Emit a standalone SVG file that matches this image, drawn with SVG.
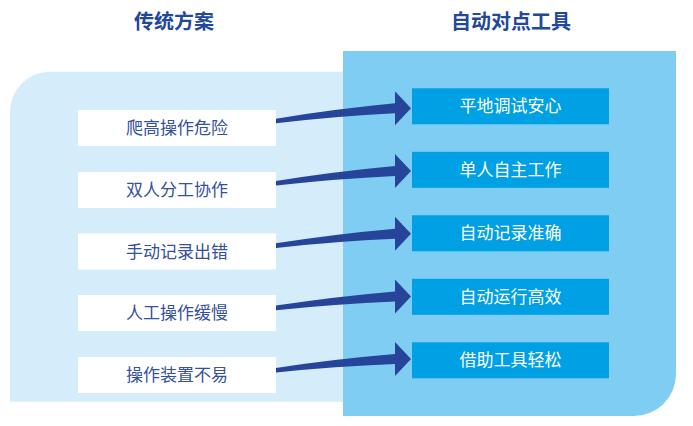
<svg xmlns="http://www.w3.org/2000/svg" width="693" height="426" viewBox="0 0 693 426">
<style>
.title{font-family:"Noto Sans CJK SC","Noto Sans",sans-serif;font-size:20px;font-weight:bold;fill:#22489c;text-anchor:middle}
.lbox{fill:#ffffff}
.rbox{fill:#00a0e4}
.ltxt{font-family:"Noto Sans CJK SC","Noto Sans",sans-serif;font-size:17px;fill:#34509e;text-anchor:middle}
.rtxt{font-family:"Noto Sans CJK SC","Noto Sans",sans-serif;font-size:17px;fill:#ffffff;text-anchor:middle}
.arrow{fill:#26449a}
</style>
<g id="panels">
<path d="M10,111.7 A40,40 0 0 1 50,71.7 L350,71.7 L350,401.7 L10,401.7 Z" fill="#d5ecfa"/>
<path d="M343,51 L676,51 L676,374 A42,42 0 0 1 634,416 L343,416 Z" fill="#80cdf3"/>
</g>
<text class="title" x="174" y="29">传统方案</text>
<text class="title" x="511" y="29">自动对点工具</text>
<g id="left1"><rect class="lbox" x="78" y="110" width="198" height="36"/><text class="ltxt" x="177" y="134">爬高操作危险</text></g>
<g id="left2"><rect class="lbox" x="78" y="172" width="198" height="36"/><text class="ltxt" x="177" y="196">双人分工协作</text></g>
<g id="left3"><rect class="lbox" x="78" y="233.5" width="198" height="36"/><text class="ltxt" x="177" y="257.5">手动记录出错</text></g>
<g id="left4"><rect class="lbox" x="78" y="295" width="198" height="36"/><text class="ltxt" x="177" y="319">人工操作缓慢</text></g>
<g id="left5"><rect class="lbox" x="78" y="357" width="198" height="36"/><text class="ltxt" x="177" y="381">操作装置不易</text></g>
<g id="right1"><rect class="rbox" x="412" y="88.3" width="197" height="36"/><text class="rtxt" x="510.5" y="112.3">平地调试安心</text></g>
<g id="right2"><rect class="rbox" x="412" y="151.8" width="197" height="36"/><text class="rtxt" x="510.5" y="175.8">单人自主工作</text></g>
<g id="right3"><rect class="rbox" x="412" y="215.3" width="197" height="36"/><text class="rtxt" x="510.5" y="239.3">自动记录准确</text></g>
<g id="right4"><rect class="rbox" x="412" y="278.8" width="197" height="36"/><text class="rtxt" x="510.5" y="302.8">自动运行高效</text></g>
<g id="right5"><rect class="rbox" x="412" y="342.3" width="197" height="36"/><text class="rtxt" x="510.5" y="366.3">借助工具轻松</text></g>
<g id="connectors">
<path class="arrow" d="M276,118.7 Q335,109 395,103.3 L395,91.3 L411,108.3 L395,125.3 L395,113.3 Q335,116.3 276,123.3 Z"/>
<path class="arrow" d="M276,181 Q335,171.5 395,166 L395,154 L411,171 L395,188 L395,176 Q335,178.8 276,185.6 Z"/>
<path class="arrow" d="M276,243.3 Q335,234 395,228.7 L395,216.7 L411,233.7 L395,250.7 L395,238.7 Q335,241.3 276,247.9 Z"/>
<path class="arrow" d="M276,305.6 Q335,296.5 395,291.4 L395,279.4 L411,296.4 L395,313.4 L395,301.4 Q335,303.8 276,310.2 Z"/>
<path class="arrow" d="M276,367.9 Q335,359 395,354 L395,342 L411,359 L395,376 L395,364 Q335,366.3 276,372.5 Z"/>
</g>
</svg>
